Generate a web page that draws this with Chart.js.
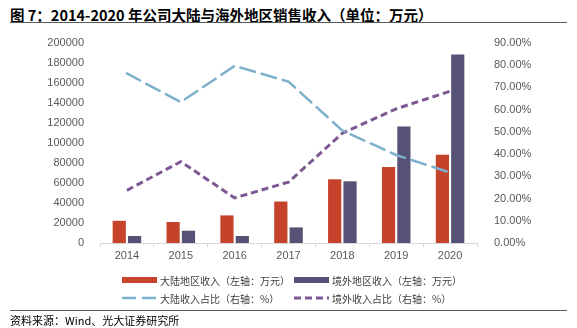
<!DOCTYPE html>
<html>
<head>
<meta charset="utf-8">
<script src="https://cdn.jsdelivr.net/npm/chart.js@4.4.1/dist/chart.umd.min.js"></script>
<style>
  html, body { margin: 0; padding: 0; background: #fff; }
  body { width: 577px; height: 328px; position: relative; overflow: hidden;
         font-family: "Liberation Sans", "Noto Sans CJK SC", sans-serif; color: #404040; }
  #title { position: absolute; left: 10px; top: 4px; font-size: 14.5px; font-weight: bold;
           color: #000; font-family: "Noto Sans CJK SC", sans-serif; white-space: nowrap; }
  .rule { position: absolute; left: 10px; width: 557px; height: 1px; background: #595959; }
  #chart-box { position: absolute; left: 0; top: 0; width: 577px; height: 328px; }
  .legend-row { position: absolute; left: 122px; font-size: 10px; color: #404040; white-space: nowrap;
                font-family: "Noto Sans CJK SC", sans-serif; }
  .item { position: absolute; top: 0; display: flex; align-items: center; height: 14px; }
  .sw { width: 35px; margin-right: 3px; }
  .bar-sw { height: 6px; }
  #source { position: absolute; left: 10px; top: 312px; font-size: 11px; color: #000;
            font-family: "Noto Sans CJK SC", sans-serif; }
</style>
</head>
<body>
<div id="title">图 7：2014-2020 年公司大陆与海外地区销售收入（单位：万元）</div>
<div class="rule" style="top:22px"></div>
<div id="chart-box"><canvas id="revenue-chart" width="577" height="328"></canvas></div>
<div id="legend"></div>
<div class="rule" style="top:310px"></div>
<div id="source">资料来源：Wind、光大证券研究所</div>

<script>
// data
const years = ["2014", "2015", "2016", "2017", "2018", "2019", "2020"];
const mainlandRevenue = [22200, 21000, 27600, 41500, 63700, 75900, 88300];
const overseasRevenue = [7000, 12300, 7000, 15600, 61700, 116400, 188400];
const mainlandShare = [76.3, 63.4, 79.7, 72.6, 50.6, 39.6, 31.7];
const overseasShare = [23.7, 36.6, 20.3, 27.4, 49.4, 60.4, 68.3];

const red = '#C4432A';
const plum = '#575275';
const blue = '#7DB0CA';
const violet = '#7D5893';

const labelFont = { family: '"Liberation Sans", Arial, sans-serif', size: 11 };

const revenueCanvas = document.getElementById('revenue-chart');

let revenueChart = new Chart(revenueCanvas, {
  type: 'bar',
  data: {
    labels: years,
    datasets: [{
      type: 'line',
      label: '大陆收入占比（右轴：%）',
      data: mainlandShare,
      yAxisID: 'y1',
      borderColor: blue,
      borderWidth: 2.5,
      borderDash: [15, 7],
      borderCapStyle: 'round',
      pointRadius: 0,
      tension: 0,
      order: 0
    }, {
      type: 'line',
      label: '境外收入占比（右轴：%）',
      data: overseasShare,
      yAxisID: 'y1',
      borderColor: violet,
      borderWidth: 3,
      borderDash: [7, 4],
      pointRadius: 0,
      tension: 0,
      order: 0
    }, {
      label: '大陆地区收入（左轴：万元）',
      data: mainlandRevenue,
      yAxisID: 'y',
      backgroundColor: red,
      categoryPercentage: 0.57,
      barPercentage: 0.86,
      order: 1
    }, {
      label: '境外地区收入（左轴：万元）',
      data: overseasRevenue,
      yAxisID: 'y',
      backgroundColor: plum,
      categoryPercentage: 0.57,
      barPercentage: 0.86,
      order: 1
    }]
  },
  options: {
    responsive: false,
    animation: false,
    layout: { padding: { top: 43, bottom: 64, left: 0, right: 0 } },
    plugins: {
      legend: { display: false },
      tooltip: { enabled: false }
    },
    scales: {
      x: {
        offset: true,
        grid: { drawOnChartArea: false, color: '#D9D9D9', tickLength: 4, offset: true },
        border: { color: '#D9D9D9' },
        ticks: { color: '#595959', font: labelFont, padding: 2, maxRotation: 0 },
        afterFit: scale => { scale.height = 21; }
      },
      y: {
        position: 'left',
        min: 0,
        max: 200000,
        grid: { display: false },
        border: { display: false },
        ticks: {
          stepSize: 20000,
          color: '#595959',
          font: labelFont,
          padding: 8,
          callback: v => String(v)
        },
        afterFit: scale => { scale.width = 100; }
      },
      y1: {
        position: 'right',
        min: 0,
        max: 90,
        grid: { display: false },
        border: { display: false },
        ticks: {
          stepSize: 10,
          color: '#595959',
          font: labelFont,
          padding: 9,
          callback: v => v.toFixed(2) + '%'
        },
        afterFit: scale => { scale.width = 100; }
      }
    }
  }
});

// legend in two columns
const legendItems = [
  { row: 0, col: 0, kind: 'bar', color: red, text: '大陆地区收入（左轴：万元）' },
  { row: 0, col: 1, kind: 'bar', color: plum, text: '境外地区收入（左轴：万元）' },
  { row: 1, col: 0, kind: 'line', color: blue, dash: '14px 6px', width: 2.5, text: '大陆收入占比（右轴：%）' },
  { row: 1, col: 1, kind: 'line', color: violet, dash: '7px 4px', width: 3, text: '境外收入占比（右轴：%）' }
];
const legend = document.getElementById('legend');
const rowTops = [273, 291];
const colLefts = [0, 172];

[0, 1].forEach(r => {
  const row = document.createElement('div');
  row.className = 'legend-row';
  row.style.top = rowTops[r] + 'px';
  legendItems.filter(it => it.row === r).forEach(it => {
    const item = document.createElement('div');
    item.className = 'item';
    item.style.left = colLefts[it.col] + 'px';
    let sw;
    if (it.kind === 'bar') {
      sw = document.createElement('div');
      sw.className = 'sw bar-sw';
      sw.style.background = it.color;
    } else {
      // dashed stroke drawn on a tiny canvas
      sw = document.createElement('canvas');
      sw.className = 'sw';
      sw.width = 35; sw.height = 6;
      const ctx = sw.getContext('2d');
      ctx.strokeStyle = it.color;
      ctx.lineWidth = it.width;
      ctx.setLineDash(it.dash.split(' ').map(parseFloat));
      ctx.beginPath(); ctx.moveTo(0, 3); ctx.lineTo(35, 3); ctx.stroke();
    }
    const label = document.createElement('span');
    label.textContent = it.text;
    item.appendChild(sw);
    item.appendChild(label);
    row.appendChild(item);
  });
  legend.appendChild(row);
});
</script>
</body>
</html>
